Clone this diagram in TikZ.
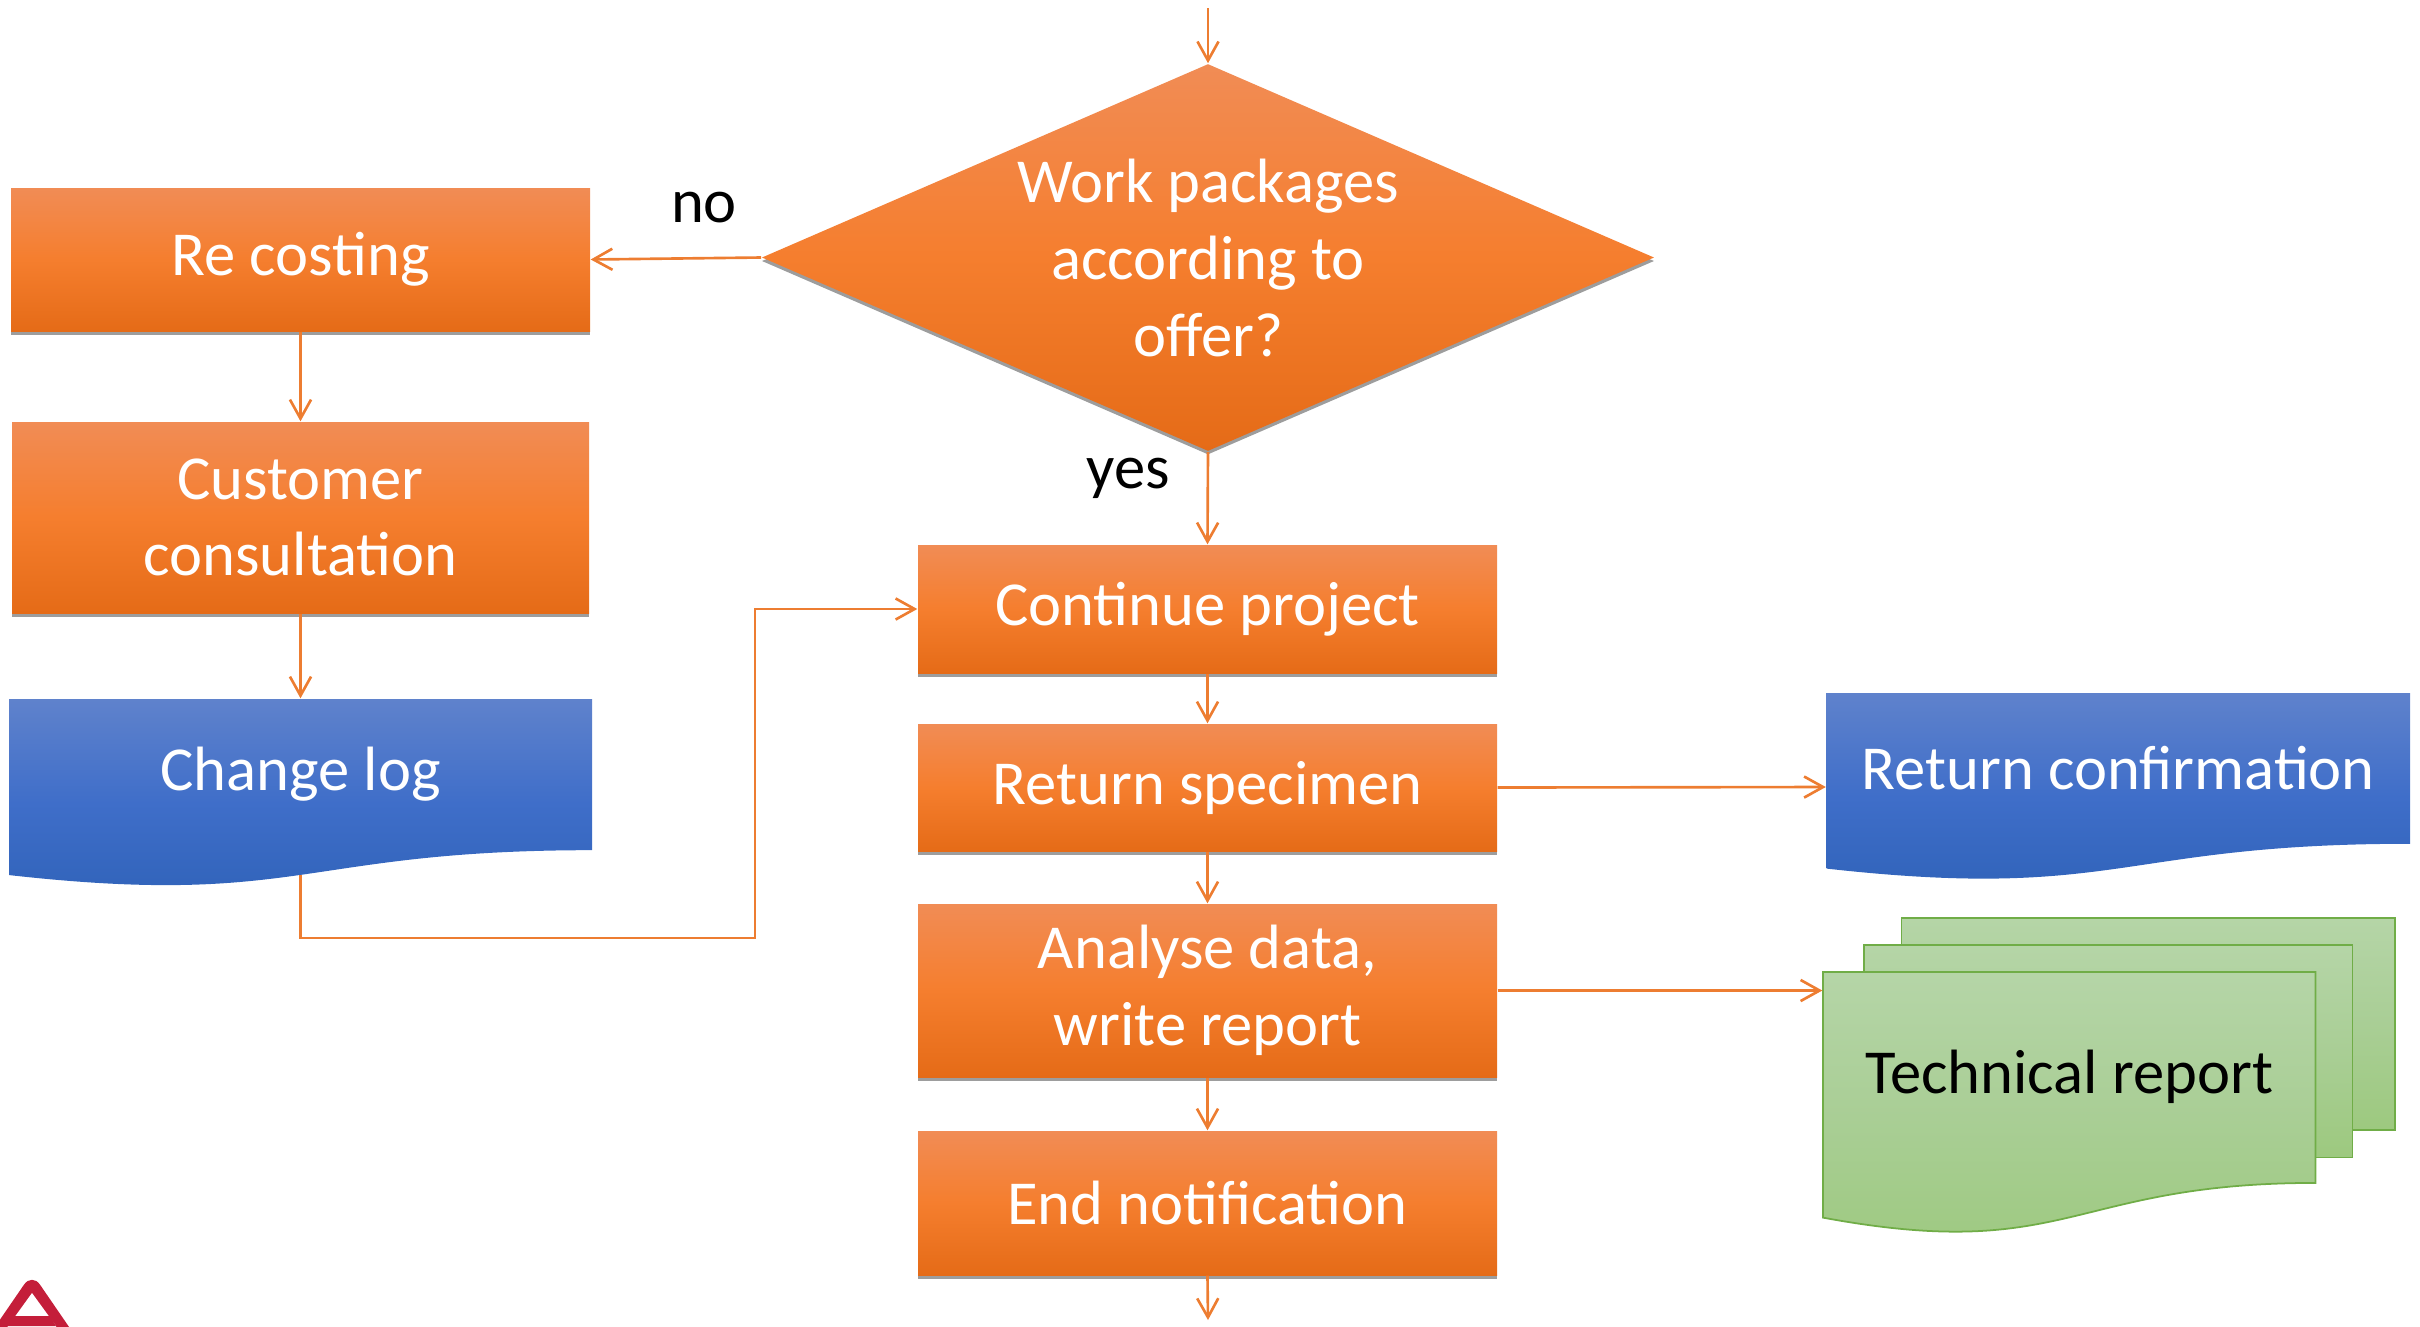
\documentclass[tikz,border=0pt]{standalone}
\usepackage{fontspec}
\setmainfont{Carlito}
\usetikzlibrary{arrows.meta,shapes.geometric,shadows,calc}
\definecolor{conn}{HTML}{ED7D31}
\definecolor{orT}{HTML}{F18C55}
\definecolor{orM}{HTML}{F57E2E}
\definecolor{orB}{HTML}{E56B17}
\definecolor{blT}{HTML}{5F82CC}
\definecolor{blM}{HTML}{3F6EC9}
\definecolor{blB}{HTML}{2F62B8}
\definecolor{grT}{HTML}{B5D5A7}
\definecolor{grM}{HTML}{A9CE95}
\definecolor{grB}{HTML}{9DC97F}
\definecolor{grL}{HTML}{70AD47}
\definecolor{logored}{HTML}{C41E3A}
\tikzset{
  x=0.01cm,y=-0.01cm,
  conline/.style={draw=conn,line width=0.75pt,-{Straight Barb[length=5.4pt,width=6pt,line width=0.75pt]}},
  shd/.style={drop shadow={shadow xshift=0pt,shadow yshift=-0.035cm,opacity=.55,fill=black!70}},
  orfill/.style={top color=orT,bottom color=orB,middle color=orM},
  procbox/.style={rectangle,inner sep=0pt,orfill,shd,text=white,font=\fontsize{17.8pt}{21.8pt}\selectfont,align=center},
  ghost/.style={rectangle,inner sep=0pt,draw=none,fill=none},
  lab/.style={inner sep=0pt,font=\fontsize{17.8pt}{21.8pt}\selectfont,align=center},
  bluefill/.style={top color=blT,bottom color=blB,middle color=blM},
  greenfill/.style={top color=grT,bottom color=grB,middle color=grM,draw=grL,line width=0.5pt},
}
% box: name, x0, y0, x1, y1, text
\newcommand{\pbox}[6]{\node[procbox,minimum width={(#4-#2)*0.01cm},minimum height={(#5-#3)*0.01cm}] (#1) at ({(#2+#4)/2},{(#3+#5)/2}) {#6};}
% document: name, x0, y0, width, full height, fill style, text style, text
\newcommand{\docshape}[8]{%
  \path[#6] (#2,#3) -- ({#2+#4},#3) -- ({#2+#4},{#3+#5*0.80194})
    .. controls ({#2+#4/2},{#3+#5*0.80194}) and ({#2+#4/2},{#3+#5*1.10750}) .. (#2,{#3+#5*0.93389}) -- cycle;
  \node[ghost,minimum width={#4*0.01cm},minimum height={#5*0.01cm}] (#1) at ({#2+#4/2},{#3+#5/2}) {};
  \coordinate (#1-b) at ({#2+#4/2},{#3+#5*0.93301});
  \node[lab,#7] (#1-t) at ({#2+#4/2},{#3+#5*0.40}) {#8};}
\begin{document}
\begin{tikzpicture}
\useasboundingbox (0,0) rectangle (2420,1326);
% logo fragment
\path[fill=logored,rounded corners=4pt] (-14,1340) -- (32,1273) -- (78,1340) -- cycle;
\path[fill=white] (-2,1340) -- (32,1293) -- (56,1326) -- (56,1340) -- cycle;
\path[fill=logored] (4,1326) -- (10,1316) -- (50,1316) -- (56,1326) -- cycle;
% process boxes
\node[diamond,inner sep=0pt,minimum width=8.92cm,minimum height=3.87cm,orfill,shd] (dec) at (1208,257.5) {};
\node[lab,text=white] (dect) at (1208,258) {Work packages\\according to\\offer?};
\pbox{recost}{11}{188}{590}{331}{Re costing}
\pbox{cust}{12}{422}{589}{613}{Customer\\consultation}
\pbox{cont}{918}{545}{1497}{673}{Continue project}
\pbox{spec}{918}{724}{1497}{851}{Return specimen}
\pbox{anal}{918}{904}{1497}{1077}{Analyse data,\\write report}
\pbox{endn}{918}{1131}{1497}{1275}{End notification}
% documents
\docshape{clog}{9}{699}{583}{188.5}{bluefill}{text=white}{Change log}
\docshape{rconf}{1826.5}{693}{583.5}{188}{bluefill}{text=white}{Return confirmation}
% technical report stack
\path[greenfill] (1901.6,918) rectangle (2395,1130);
\path[greenfill] (1864,945) rectangle (2352.6,1157.5);
\docshape{trep}{1823}{972}{492.5}{263}{greenfill}{text=black}{Technical report}
% labels
\node[lab] (nolab) at (704,208) {no};
\node[lab] (yeslab) at (1128,478) {yes};
% connectors
\coordinate (topin) at (1208,8);
\coordinate (botout) at (1208,1320);
\draw[conline] (topin) -- (dec.north);
\draw[conline] (dec.west) -- (recost.east);
\draw[conline] (dec.south) -- (cont.north);
\draw[conline] (recost.south) -- (cust.north);
\draw[conline] (cust.south) -- (clog.north);
\coordinate (elbowA) at (755,938);
\draw[conline] (clog-b) |- (elbowA) |- (cont.west);
\draw[conline] (cont.south) -- (spec.north);
\draw[conline] (spec.south) -- (anal.north);
\draw[conline] (anal.south) -- (endn.north);
\draw[conline] (endn.south) -- (botout);
\draw[conline] (spec.east) -- (rconf.west);
\draw[conline] (anal.east) -- (anal.east -| trep.west);
\end{tikzpicture}
\end{document}
